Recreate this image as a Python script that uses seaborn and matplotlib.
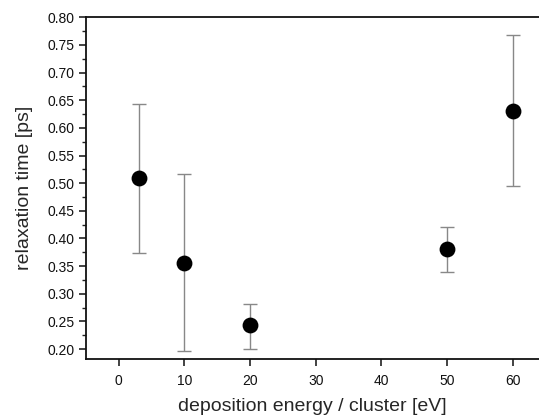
import matplotlib
matplotlib.use("Agg")
import matplotlib.pyplot as plt
import seaborn as sns
import numpy as np
import pandas as pd
from matplotlib.ticker import MultipleLocator, FormatStrFormatter

energy = [3, 10, 20, 50, 60]
relax_time = [0.509, 0.355, 0.243, 0.381, 0.631]
err_low = [0.136, 0.159, 0.042, 0.041, 0.136]
err_high = [0.135, 0.161, 0.039, 0.040, 0.137]

sns.set_theme(style="ticks")
plt.rcParams['font.family'] = ['Liberation Sans', 'DejaVu Sans']

df = pd.DataFrame({"energy": energy, "time": relax_time})

fig = plt.figure(figsize=(5.39, 4.17), dpi=100)
ax = fig.add_axes([0.1596, 0.139, 0.8404, 0.8195])

ax.errorbar(energy, relax_time, yerr=[err_low, err_high], fmt='none',
            ecolor='#888888', elinewidth=1.0, capsize=5, capthick=1.0, zorder=2)
eb = ax.containers[-1]
for cap in eb[1]:
    cap.set_color('black')

sns.scatterplot(data=df, x="energy", y="time", ax=ax, color='black', s=130,
                edgecolor='black', linewidth=0, zorder=3)

ax.set_xlim(-5, 64)
ax.set_ylim(0.182, 0.80)
ax.xaxis.set_major_locator(MultipleLocator(10))
ax.yaxis.set_major_locator(MultipleLocator(0.05))
ax.yaxis.set_minor_locator(MultipleLocator(0.025))
ax.yaxis.set_major_formatter(FormatStrFormatter('%.2f'))

ax.tick_params(axis='both', which='major', direction='out', length=5, width=1.2,
               colors='#222222', labelsize=10, labelcolor='#111111')
ax.tick_params(axis='y', which='minor', direction='out', length=3, width=1.0, colors='#222222')
ax.tick_params(axis='x', which='major', pad=6)

for s in ['left', 'bottom', 'top']:
    ax.spines[s].set_visible(True)
    ax.spines[s].set_linewidth(1.3)
    ax.spines[s].set_color('#111111')
ax.spines['right'].set_visible(False)

ax.set_xlabel("deposition energy / cluster [eV]", fontsize=14, labelpad=7)
ax.set_ylabel("relaxation time [ps]", fontsize=14, labelpad=10)

fig.savefig("out.png", dpi=100)
